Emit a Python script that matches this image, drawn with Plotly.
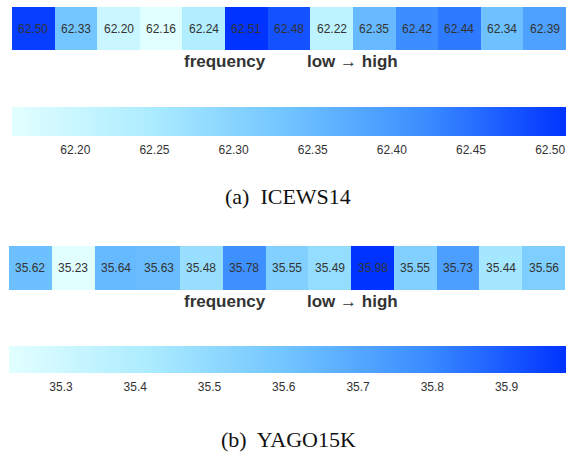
import plotly.graph_objects as go

icews_vals = [62.50, 62.33, 62.20, 62.16, 62.24, 62.51, 62.48, 62.22, 62.35, 62.42, 62.44, 62.34, 62.39]
yago_vals = [35.62, 35.23, 35.64, 35.63, 35.48, 35.78, 35.55, 35.49, 35.98, 35.55, 35.73, 35.44, 35.56]
icews_ticks = [62.20, 62.25, 62.30, 62.35, 62.40, 62.45, 62.50]
yago_ticks = [35.3, 35.4, 35.5, 35.6, 35.7, 35.8, 35.9]
captions = ["(a)  ICEWS14", "(b)  YAGO15K"]
axis_words = ["frequency", "low \u2192 high"]

W, H = 576, 452
def px(x):
    return x / W
def py(y):
    return 1 - y / H

cscale = [
    [0.0, "rgb(226,255,255)"],
    [0.25, "rgb(172,236,255)"],
    [0.5, "rgb(112,196,255)"],
    [0.75, "rgb(58,140,255)"],
    [1.0, "rgb(0,51,255)"],
]

tickfont = dict(size=12, color="#333333", family="Liberation Sans, Arial")

fig = go.Figure()

fig.add_trace(go.Heatmap(
    z=[icews_vals], x=list(range(len(icews_vals))), y=[0],
    colorscale=cscale, zmin=min(icews_vals), zmax=max(icews_vals),
    text=[[f"{v:.2f}" for v in icews_vals]], texttemplate="%{text}",
    textfont=dict(size=12, color="#333333", family="Liberation Sans, Arial"),
    xaxis="x", yaxis="y", hoverinfo="skip",
    colorbar=dict(orientation="h", x=px(289), xanchor="center", len=554 / W,
                  y=py(107), yanchor="top", thickness=29, xpad=0, ypad=0,
                  outlinewidth=0, tickvals=icews_ticks,
                  ticktext=[f"{t:.2f}" for t in icews_ticks],
                  ticks="outside", ticklen=4, tickcolor="rgba(0,0,0,0)",
                  tickfont=tickfont),
))

fig.add_trace(go.Heatmap(
    z=[yago_vals], x=list(range(len(yago_vals))), y=[0],
    colorscale=cscale, zmin=min(yago_vals), zmax=max(yago_vals),
    text=[[f"{v:.2f}" for v in yago_vals]], texttemplate="%{text}",
    textfont=dict(size=12, color="#333333", family="Liberation Sans, Arial"),
    xaxis="x2", yaxis="y2", hoverinfo="skip",
    colorbar=dict(orientation="h", x=px(287.5), xanchor="center", len=557 / W,
                  y=py(346), yanchor="top", thickness=27, xpad=0, ypad=0,
                  outlinewidth=0, tickvals=yago_ticks,
                  ticktext=[f"{t:.1f}" for t in yago_ticks],
                  ticks="outside", ticklen=4, tickcolor="rgba(0,0,0,0)",
                  tickfont=tickfont),
))

ax_common = dict(showgrid=False, zeroline=False, showticklabels=False, ticks="", showline=False)
fig.update_layout(
    width=W, height=H, margin=dict(l=0, r=0, t=0, b=0),
    paper_bgcolor="white", plot_bgcolor="white",
    xaxis=dict(domain=[px(12), px(566)], **ax_common),
    yaxis=dict(domain=[py(50), py(7)], **ax_common),
    xaxis2=dict(domain=[px(9), px(565)], anchor="y2", **ax_common),
    yaxis2=dict(domain=[py(290), py(246)], anchor="x2", **ax_common),
)

ann = []
for yc, cap_y, cap in [(62, 196, captions[0]), (301, 439, captions[1])]:
    ann.append(dict(text=f"<b>{axis_words[0]}</b>", x=px(225), y=py(yc), xref="paper", yref="paper",
                    showarrow=False, xanchor="center", yanchor="middle",
                    font=dict(size=17, color="#333333", family="Liberation Sans, Arial")))
    ann.append(dict(text=f"<b>{axis_words[1]}</b>", x=px(352), y=py(yc), xref="paper", yref="paper",
                    showarrow=False, xanchor="center", yanchor="middle",
                    font=dict(size=17, color="#333333", family="Liberation Sans, Arial")))
    ann.append(dict(text=cap, x=0.5, y=py(cap_y), xref="paper", yref="paper",
                    showarrow=False, xanchor="center", yanchor="middle",
                    font=dict(size=22, color="#111111", family="Liberation Serif, Times New Roman")))
fig.update_layout(annotations=ann)

fig.write_html("out.html", config={"displayModeBar": False},
               post_script="document.body.style.margin='0';document.body.style.overflow='hidden';")
